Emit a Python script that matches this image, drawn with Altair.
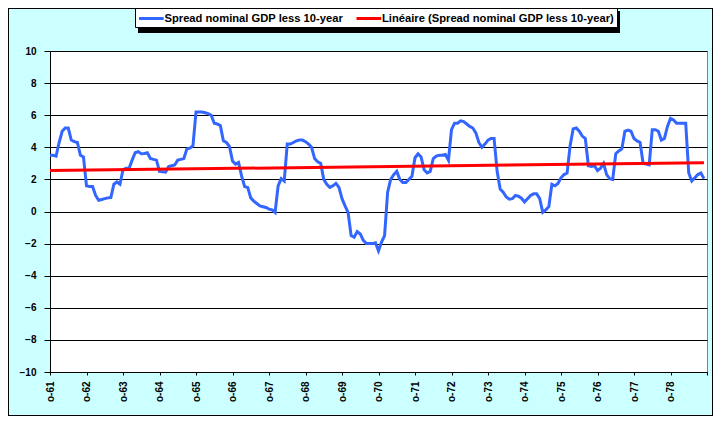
import altair as alt
import pandas as pd

# Monthly values, October 1961 onward
spread = [
    3.5, 3.5, 3.45, 4.3, 5.0, 5.2, 5.2, 4.45, 4.35, 4.3, 3.5, 3.4,
    1.6, 1.55, 1.55, 1.0, 0.7, 0.75, 0.8, 0.85, 0.87, 1.7, 1.84, 1.7,
    2.6, 2.7, 2.7, 3.2, 3.66, 3.73, 3.6, 3.62, 3.66, 3.3, 3.25, 3.2,
    2.5, 2.48, 2.45, 2.8, 2.85, 2.9, 3.2, 3.25, 3.3, 3.9, 3.95, 4.1,
    6.2, 6.2, 6.2, 6.15, 6.1, 6.0, 5.5, 5.45, 5.36, 4.4, 4.3, 4.05,
    3.15, 2.95, 3.05, 2.2, 1.55, 1.5, 0.85, 0.65, 0.5, 0.35, 0.3, 0.25,
    0.15, 0.1, -0.06, 1.6, 2.05, 1.9, 4.2, 4.2, 4.3, 4.4, 4.45, 4.45,
    4.35, 4.2, 4.0, 3.3, 3.1, 3.0, 2.0, 1.7, 1.5, 1.6, 1.75, 1.5,
    0.8, 0.35, -0.06, -1.5, -1.6, -1.25, -1.4, -1.8, -2.0, -2.0, -2.0, -1.95,
    -2.45, -1.9, -1.5, 1.2, 2.0, 2.3, 2.5, 2.0, 1.8, 1.8, 2.0, 2.2,
    3.35, 3.6, 3.4, 2.6, 2.4, 2.5, 3.3, 3.45, 3.5, 3.5, 3.55, 3.2,
    5.1, 5.5, 5.5, 5.65, 5.6, 5.45, 5.3, 5.2, 4.9, 4.3, 4.0, 4.2,
    4.45, 4.55, 4.55, 2.5, 1.4, 1.2, 0.9, 0.77, 0.8, 1.0, 0.95, 0.83,
    0.6, 0.8, 1.0, 1.1, 1.1, 0.8, -0.05, 0.1, 0.3, 1.7, 1.6, 1.75,
    2.1, 2.3, 2.4, 4.1, 5.15, 5.2, 5.0, 4.7, 4.55, 2.85, 2.8, 2.85,
    2.55, 2.7, 3.0, 2.3, 2.05, 2.0, 3.6, 3.77, 3.9, 5.0, 5.07, 5.0,
    4.55, 4.4, 4.3, 3.0, 2.95, 2.9, 5.1, 5.1, 5.0, 4.45, 4.55, 5.3,
    5.8, 5.7, 5.5, 5.5, 5.5, 5.5, 2.4, 1.9, 2.1, 2.3, 2.4, 2.05,
]
tick_labels = ["o-61", "o-62", "o-63", "o-64", "o-65", "o-66", "o-67", "o-68", "o-69",
               "o-70", "o-71", "o-72", "o-73", "o-74", "o-75", "o-76", "o-77", "o-78"]
y_ticks = [-10, -8, -6, -4, -2, 0, 2, 4, 6, 8, 10]
series_name = "Spread nominal GDP less 10-year"
trend_name = "Linéaire (Spread nominal GDP less 10-year)"

months = list(range(len(spread)))
x_ticks = [12 * i for i in range(len(tick_labels) + 1)]
df = pd.DataFrame({"m": months, "v": spread, "s": series_name})

FONT = "Liberation Sans"
label_arr = "[" + ",".join("'" + t + "'" for t in tick_labels) + "]"

x_enc = alt.X(
    "m:Q",
    scale=alt.Scale(domain=[0, x_ticks[-1]], nice=False, zero=False),
    axis=alt.Axis(
        values=x_ticks, labelExpr=label_arr + "[datum.value / 12] || ''",
        labelAngle=270, labelFont=FONT, labelFontWeight="bold", labelFontSize=10,
        labelColor="black", tickSize=3, tickColor="black", domainColor="black",
        labelPadding=6, grid=False, title=None, labelOverlap=False, labelFlush=False,
    ),
)
y_enc = alt.Y(
    "v:Q",
    scale=alt.Scale(domain=[-10, 10], nice=False),
    axis=alt.Axis(
        values=y_ticks, labelFont=FONT, labelFontWeight="bold", labelFontSize=10,
        labelColor="black", tickSize=6, tickColor="black", domainColor="black",
        labelPadding=8, grid=True, gridColor="black", gridWidth=1, title=None,
        labelOverlap=False, labelFlush=False,
    ),
)
color_enc = alt.Color(
    "s:N",
    scale=alt.Scale(domain=[series_name, trend_name], range=["#3366FF", "#FF0000"]),
    legend=alt.Legend(
        orient="none", legendX=85, legendY=-43, direction="horizontal", title=None,
        symbolType="M-1,0H2.8", symbolSize=169, symbolStrokeWidth=3,
        labelFont=FONT, labelFontWeight="bold", labelFontSize=11.2, labelColor="black",
        labelLimit=400, strokeColor="black", fillColor="white", padding=2.5,
        labelOffset=11, columnPadding=6.5,
    ),
)

line = alt.Chart(df).mark_line(strokeWidth=3).encode(x=x_enc, y=y_enc, color=color_enc)

trend = (
    alt.Chart(df)
    .transform_regression("m", "v")
    .transform_calculate(s="'" + trend_name + "'")
    .mark_line(strokeWidth=3)
    .encode(x=x_enc, y=y_enc, color=color_enc)
)

border = alt.Chart(df).mark_rect(fill=None, stroke="black", strokeWidth=1).encode(
    x=alt.value(-41.5), x2=alt.value(662.5), y=alt.value(-42.5), y2=alt.value(364.5)
)
shadow = alt.Chart(df).mark_rect(color="black").encode(
    x=alt.value(88), x2=alt.value(570), y=alt.value(-40), y2=alt.value(-18)
)

chart = (
    alt.layer(border, shadow, line, trend)
    .properties(
        width=657, height=321,
        autosize=alt.AutoSizeParams(type="none"),
        padding={"left": 42, "top": 43, "right": 6, "bottom": 44},
    )
    .configure(background="#CCFFFF")
    .configure_view(fill="white", stroke="#808080", strokeWidth=1)
)

chart.save("out.html", embed_options={"renderer": "svg", "actions": False})
